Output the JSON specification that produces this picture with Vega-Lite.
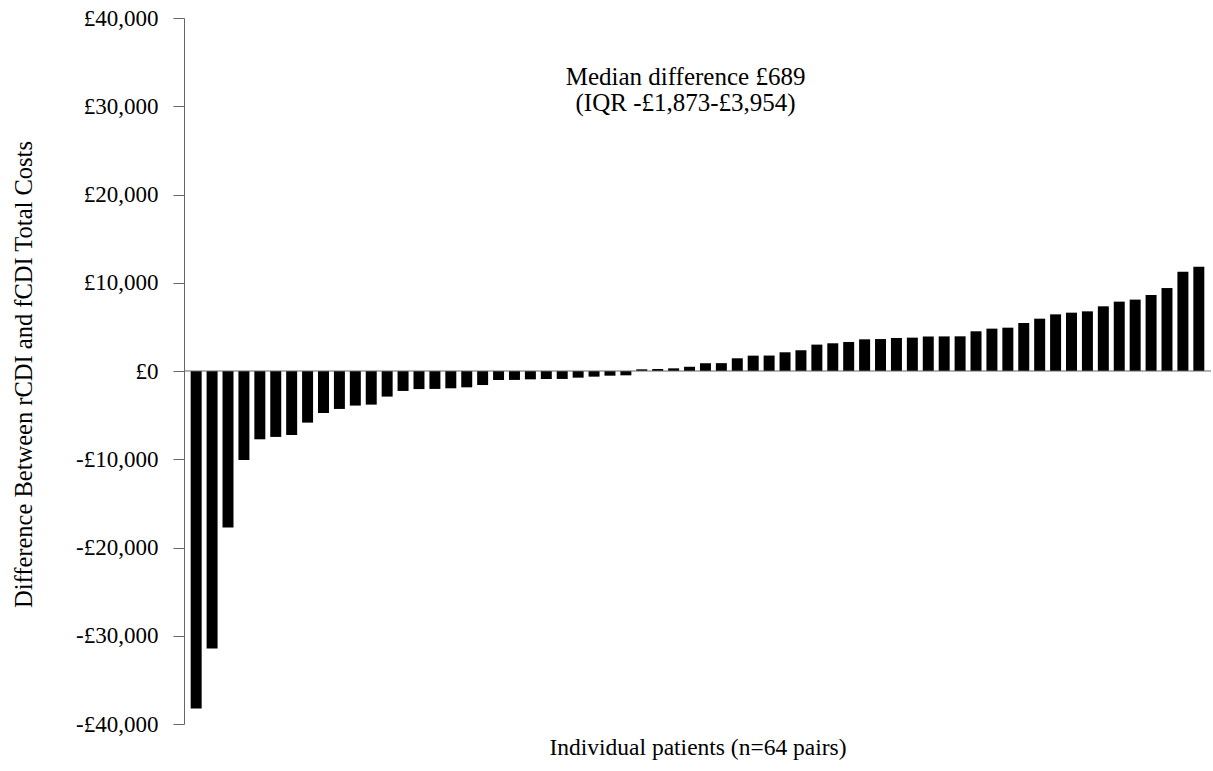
{
  "$schema": "https://vega.github.io/schema/vega-lite/v6.json",
  "width": 1027,
  "height": 706,
  "autosize": "none",
  "padding": {"left": 184, "top": 18, "right": 2, "bottom": 47},
  "background": "white",
  "config": {
    "view": {"stroke": null},
    "font": "Liberation Serif",
    "axis": {"labelFont": "Liberation Serif", "titleFont": "Liberation Serif", "titleFontWeight": "normal"}
  },
  "datasets": {
    "bars": [
      {"patient": 1, "diff": -38230},
      {"patient": 2, "diff": -31440},
      {"patient": 3, "diff": -17740},
      {"patient": 4, "diff": -10080},
      {"patient": 5, "diff": -7740},
      {"patient": 6, "diff": -7470},
      {"patient": 7, "diff": -7250},
      {"patient": 8, "diff": -5850},
      {"patient": 9, "diff": -4760},
      {"patient": 10, "diff": -4300},
      {"patient": 11, "diff": -3920},
      {"patient": 12, "diff": -3810},
      {"patient": 13, "diff": -2900},
      {"patient": 14, "diff": -2260},
      {"patient": 15, "diff": -2050},
      {"patient": 16, "diff": -2030},
      {"patient": 17, "diff": -1960},
      {"patient": 18, "diff": -1850},
      {"patient": 19, "diff": -1590},
      {"patient": 20, "diff": -1020},
      {"patient": 21, "diff": -1010},
      {"patient": 22, "diff": -945},
      {"patient": 23, "diff": -905},
      {"patient": 24, "diff": -900},
      {"patient": 25, "diff": -755},
      {"patient": 26, "diff": -640},
      {"patient": 27, "diff": -530},
      {"patient": 28, "diff": -490},
      {"patient": 29, "diff": 190},
      {"patient": 30, "diff": 230},
      {"patient": 31, "diff": 300},
      {"patient": 32, "diff": 480},
      {"patient": 33, "diff": 880},
      {"patient": 34, "diff": 890},
      {"patient": 35, "diff": 1440},
      {"patient": 36, "diff": 1740},
      {"patient": 37, "diff": 1750},
      {"patient": 38, "diff": 2120},
      {"patient": 39, "diff": 2350},
      {"patient": 40, "diff": 2990},
      {"patient": 41, "diff": 3140},
      {"patient": 42, "diff": 3290},
      {"patient": 43, "diff": 3590},
      {"patient": 44, "diff": 3620},
      {"patient": 45, "diff": 3740},
      {"patient": 46, "diff": 3780},
      {"patient": 47, "diff": 3910},
      {"patient": 48, "diff": 3920},
      {"patient": 49, "diff": 3930},
      {"patient": 50, "diff": 4500},
      {"patient": 51, "diff": 4800},
      {"patient": 52, "diff": 4910},
      {"patient": 53, "diff": 5440},
      {"patient": 54, "diff": 5930},
      {"patient": 55, "diff": 6420},
      {"patient": 56, "diff": 6610},
      {"patient": 57, "diff": 6760},
      {"patient": 58, "diff": 7330},
      {"patient": 59, "diff": 7860},
      {"patient": 60, "diff": 8090},
      {"patient": 61, "diff": 8610},
      {"patient": 62, "diff": 9400},
      {"patient": 63, "diff": 11260},
      {"patient": 64, "diff": 11820}
    ],
    "note": [{"line1": "Median difference £689", "line2": " (IQR -£1,873-£3,954)"}]
  },
  "layer": [
    {
      "data": {"name": "bars"},
      "mark": {"type": "bar", "color": "#000000"},
      "encoding": {
        "x": {
          "field": "patient",
          "type": "ordinal",
          "scale": {"paddingInner": 0.31, "paddingOuter": 0.42},
          "axis": {
            "title": "Individual patients (n=64 pairs)",
            "labels": false,
            "ticks": false,
            "domain": false,
            "titleFontSize": 23.5,
            "titleColor": "#000000",
            "titlePadding": 11
          }
        },
        "y": {
          "field": "diff",
          "type": "quantitative",
          "scale": {"domain": [-40000, 40000], "nice": false, "zero": false},
          "axis": {
            "title": "Difference Between rCDI and fCDI Total Costs",
            "values": [-40000, -30000, -20000, -10000, 0, 10000, 20000, 30000, 40000],
            "labelExpr": "datum.value < 0 ? '-£' + format(-datum.value, ',') : '£' + format(datum.value, ',')",
            "labelFontSize": 23,
            "labelColor": "#000000",
            "labelPadding": 15,
            "tickSize": 11,
            "tickColor": "#666666",
            "domainColor": "#666666",
            "grid": false,
            "titleFontSize": 24.5,
            "titleColor": "#000000",
            "titleX": -153,
            "titleY": 356,
            "titleBaseline": "alphabetic"
          }
        }
      }
    },
    {
      "data": {"name": "note"},
      "mark": {"type": "rule", "color": "#666666", "strokeWidth": 1},
      "encoding": {"y": {"datum": 0, "type": "quantitative"}}
    },
    {
      "data": {"name": "note"},
      "mark": {
        "type": "text",
        "fontSize": 25,
        "color": "#000000",
        "align": "center",
        "baseline": "middle",
        "lineHeight": 26,
        "dx": -4
      },
      "encoding": {
        "x": {"datum": 32, "type": "ordinal"},
        "y": {"datum": 33300, "type": "quantitative"},
        "text": {"value": ["Median difference £689", " (IQR -£1,873-£3,954)"]}
      }
    }
  ]
}
